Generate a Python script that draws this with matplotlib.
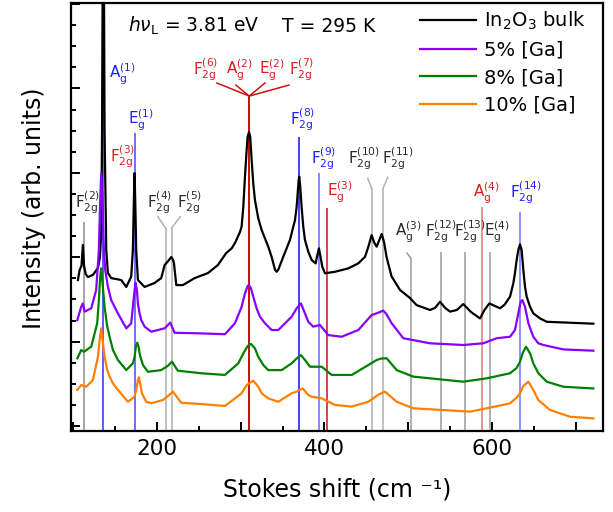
import matplotlib
matplotlib.use('Agg')
import matplotlib.pyplot as plt
from matplotlib.ticker import MultipleLocator

plt.rcParams['font.family'] = ['DejaVu Sans']
plt.rcParams['mathtext.default'] = 'regular'

# ---------------- data ----------------
series_names = [r'In$_2$O$_3$ bulk', '5% [Ga]', '8% [Ga]', '10% [Ga]']

bulk_x = [105.7, 107.7, 110, 111.6, 113, 115, 117.6, 123.6, 129.6, 132, 133.5, 134.5, 135.5, 136.5,
          137.5, 139.5, 141.5, 145.5, 157.4, 163.4, 167.4, 169.3, 171.3, 172.5, 173.3, 174.1, 175.3,
          177.3, 185.3, 197.2, 205.1, 209.2, 212.3, 215, 217.1, 219, 220.3, 223.1, 231.0, 245.0,
          260.9, 272.8, 282.7, 289.2, 293.1, 299.1, 301.1, 303.1, 305.1, 307.1, 308.3, 309.9, 311.4,
          313.1, 315.0, 317, 321.0, 325, 329, 332.9, 336.9, 340.9, 342.9, 344.9, 350.8, 358.8,
          364.8, 366.8, 368, 369.2, 369.9, 371.1, 372.7, 374.7, 376.7, 380.7, 384.7, 389.5, 391.5,
          393.4, 395.4, 397.4, 400.6, 412.5, 428.4, 440.4, 448.4, 452.4, 456.3, 459.3, 462.3, 465.3,
          468.3, 471.2, 474.2, 480, 490.1, 502, 510, 526, 532, 538, 544, 549.9, 558, 565.7, 575,
          585.7, 591, 596.8, 603, 609.6, 615, 621.5, 625.4, 627.4, 629.4, 631.4, 633.4, 635.4,
          637.4, 639.4, 641.4, 645.4, 649.3, 657.3, 665.3, 690, 721]
bulk_y = [6.92, 7.39, 7.6, 8.58, 7.6, 7.2, 7.06, 7.16, 7.49, 8.0, 9.15, 14, 24, 24,
          14, 8.34, 7.25, 7.01, 6.92, 6.59, 6.92, 7.08, 8.34, 10.71, 11.99, 10.71, 8.34,
          6.92, 6.59, 6.78, 7.01, 7.63, 7.77, 7.9, 8.01, 7.9, 7.73, 6.68, 6.68, 7.01,
          7.25, 7.63, 8.2, 8.42, 8.67, 9.19, 9.45, 10.38, 11.82, 13.08, 13.71, 13.93, 13.71,
          12.6, 11.5, 10.71, 9.84, 9.29, 8.89, 8.5, 8.02, 7.41, 7.31, 7.41, 8.02, 8.82,
          9.76, 10.39, 11.03, 11.66, 11.82, 11.34, 10.39, 9.45, 8.82, 8.26, 7.87, 7.71, 8.1,
          8.42, 8.0, 7.55, 7.24, 7.31, 7.47, 7.71, 8.02, 8.5, 9.05, 8.7, 8.5, 8.8,
          9.1, 8.7, 8.0, 7.1, 6.45, 6.07, 5.73, 5.5, 5.6, 5.89, 5.6, 5.42, 5.5, 5.78, 5.4,
          5.1, 5.5, 5.81, 5.7, 5.58, 5.75, 6.13, 6.76, 7.24, 7.87, 8.34, 8.61, 8.34,
          7.39, 6.6, 6.13, 5.65, 5.34, 5.1, 4.94, 4.9, 4.85]

ga5_x = [105, 109.6, 111.6, 113.7, 121.6, 127.5, 130.7, 132.3, 133.5, 135.1, 136.7, 138.3, 141.5,
         145.4, 153.4, 163.4, 169.3, 171.3, 172.5, 174.5, 176.1, 177.3, 179.3, 181.3, 185.3, 193.2,
         209.2, 215.9, 221.1, 252.9, 281.2, 293.1, 297.1, 301.1, 305.1, 308.3, 309.9, 312.2, 315,
         319, 323, 329, 336.9, 344.9, 360.8, 366.8, 371.9, 376.7, 380.7, 386.6, 394.6, 404.5,
         420.5, 440.4, 456.3, 463, 470.2, 474, 480.2, 494.1, 526, 565.7, 589.6, 605.5, 621.5,
         627.4, 631.4, 634.2, 636.2, 639.4, 643.4, 649.3, 655.3, 661.3, 685.2, 721]
ga5_y = [5.02, 5.65, 5.81, 5.42, 5.58, 6.45, 8.34, 10.71, 11.98, 10.71, 8.34, 7.39, 6.6,
         5.97, 5.34, 4.63, 4.87, 5.65, 6.13, 6.79, 6.45, 5.81, 5.34, 5.02, 4.71, 4.47,
         4.63, 4.9, 4.42, 4.39, 4.35, 4.87, 5.26, 5.65, 6.29, 6.64, 6.68, 6.53, 6.13,
         5.58, 5.18, 4.87, 4.55, 4.55, 5.18, 5.58, 5.81, 5.34, 4.94, 4.71, 4.79, 4.31,
         4.23, 4.55, 5.26, 5.35, 5.47, 5.3, 4.87, 4.16, 3.92, 3.84, 3.92, 4.16, 4.23,
         4.55, 5.34, 5.89, 5.97, 5.65, 4.87, 4.23, 3.92, 3.84, 3.63, 3.57]

ga8_x = [105, 109.6, 112.8, 121.6, 128.7, 130.7, 132.3, 133.5, 135.1, 137.5, 140.7, 143.5, 147.5,
         153.4, 163.4, 171.3, 173.3, 174.9, 176.5, 178.1, 179.7, 183.3, 189.3, 205.1, 213, 217.9,
         225, 252.9, 281.2, 297.1, 303.1, 308.3, 312.2, 317, 321, 327, 332.9, 348.9, 360.8,
         366.8, 371.9, 376.7, 382.7, 396.7, 408.6, 432.5, 452.4, 462.3, 468, 474.2, 486.2, 506,
         565.7, 593.7, 621.5, 629.4, 633.4, 637, 640.6, 645.4, 649.3, 655.3, 665.3, 685.2, 721]
ga8_y = [3.21, 3.6, 3.52, 3.76, 4.87, 5.97, 7.08, 7.47, 6.76, 5.65, 4.71, 4.23, 3.6,
         3.13, 2.65, 2.97, 3.28, 3.76, 3.95, 3.76, 3.36, 2.89, 2.57, 2.65, 2.85, 3.05,
         2.62, 2.5, 2.42, 2.97, 3.44, 3.79, 3.89, 3.68, 3.28, 2.89, 2.65, 2.65, 2.97,
         3.2, 3.36, 3.13, 2.81, 2.81, 2.42, 2.42, 2.89, 3.13, 3.2, 3.21, 2.65, 2.34,
         2.1, 2.26, 2.5, 2.75, 3.05, 3.5, 3.76, 3.44, 2.97, 2.5, 2.1, 1.86, 1.78]

ga10_x = [105, 109.6, 115.6, 123.6, 129.6, 131.6, 133.5, 135.1, 137.5, 140.7, 143.5, 147.5, 153.4,
          165.4, 173.3, 175.3, 177.3, 178.5, 180.0, 182.1, 187.2, 193.2, 207.2, 214, 219.1, 229,
          252.9, 281.2, 301.1, 307.1, 315, 321, 325, 332.9, 344.9, 360.8, 366.8, 374, 380.7,
          384.7, 396.7, 412.5, 432.5, 452.4, 465, 472.2, 486.2, 506, 573.7, 593.7, 621.5, 629.4,
          633.4, 637.4, 643.4, 649.3, 655.3, 669.2, 693.1, 721]
ga10_y = [1.71, 1.94, 1.86, 2.18, 3.28, 4.08, 4.63, 4.08, 3.28, 2.65, 2.34, 2.02, 1.71,
          1.15, 1.39, 1.71, 2.18, 2.31, 2.02, 1.55, 1.15, 1.08, 1.23, 1.45, 1.63, 1.1,
          1.04, 0.95, 1.55, 1.94, 2.15, 1.86, 1.55, 1.31, 1.15, 1.55, 1.63, 1.78, 1.47,
          1.39, 1.31, 1.0, 0.92, 1.15, 1.5, 1.63, 1.15, 0.84, 0.68, 0.84, 1.07, 1.35,
          1.55, 1.9, 2.1, 1.71, 1.23, 0.76, 0.44, 0.36]

# Raman mode assignments (label, frequency in cm^-1)
mode_labels = [r'$F_{2g}^{(2)}$', r'$A_{g}^{(1)}$', r'$F_{2g}^{(3)}$', r'$E_{g}^{(1)}$',
               r'$F_{2g}^{(4)}$', r'$F_{2g}^{(5)}$', r'$F_{2g}^{(6)}$', r'$A_{g}^{(2)}$',
               r'$E_{g}^{(2)}$', r'$F_{2g}^{(7)}$', r'$F_{2g}^{(8)}$', r'$F_{2g}^{(9)}$',
               r'$E_{g}^{(3)}$', r'$F_{2g}^{(10)}$', r'$F_{2g}^{(11)}$', r'$A_{g}^{(3)}$',
               r'$F_{2g}^{(12)}$', r'$F_{2g}^{(13)}$', r'$A_{g}^{(4)}$', r'$E_{g}^{(4)}$',
               r'$F_{2g}^{(14)}$']
mode_freq = [113.5, 135.5, 132.0, 173.4, 210.4, 217.5, 310.2, 310.2, 310.2, 310.2, 370.0,
             393.0, 402.6, 456.3, 469.9, 503.0, 539.0, 568.0, 587.7, 597.6, 633.4]

# ---------------- layout / style (not data) ----------------
YMIN, YMAX = -0.237, 20.05
GRAY_T, BLUE_T, RED_T = '#2a2a2a', '#2020ff', '#d82020'
# per mode: line top, kink point, label anchor (left, baseline), text colour, line colour
mode_layout = [
    (9.67, None, (102.4, 10.37), GRAY_T, '#8c8c8c'),
    (YMAX, None, (143.0, 16.48), BLUE_T, '#3030ff'),
    (None, None, (143.9, 12.53), RED_T, '#d01010'),
    (13.89, None, (165.7, 14.31), BLUE_T, '#4848ff'),
    (9.38, (201.2, 9.92), (188.4, 10.38), GRAY_T, '#b0b0b0'),
    (9.38, (227.8, 9.92), (224.2, 10.38), GRAY_T, '#b0b0b0'),
    (15.64, (271.6, 16.26), (243.3, 16.64), RED_T, '#d01010'),
    (15.64, (294.3, 16.16), (282.0, 16.64), RED_T, '#d01010'),
    (15.64, (329.0, 16.26), (321.8, 16.64), RED_T, '#d01010'),
    (15.64, (357.6, 16.16), (358.0, 16.64), RED_T, '#d01010'),
    (13.70, None, (358.8, 14.31), BLUE_T, '#1010ee'),
    (11.99, None, (383.5, 12.45), BLUE_T, '#6a6aff'),
    (10.33, None, (402.6, 10.87), RED_T, '#cc1111'),
    (11.26, (451.6, 11.74), (428.4, 12.45), GRAY_T, '#b0b0b0'),
    (11.26, (475.5, 11.79), (468.3, 12.45), GRAY_T, '#b0b0b0'),
    (7.96, (498.5, 8.2), (484.2, 9.0), GRAY_T, '#9a9a9a'),
    (8.25, None, (519.6, 9.0), GRAY_T, '#9a9a9a'),
    (8.25, None, (554.4, 9.0), GRAY_T, '#9a9a9a'),
    (10.38, None, (577.7, 10.82), RED_T, '#e07878'),
    (8.25, None, (590.0, 9.0), GRAY_T, '#9a9a9a'),
    (10.14, None, (621.5, 10.82), BLUE_T, '#7070ff'),
]

fig = plt.figure(figsize=(6.13, 5.12), dpi=100)
ax = fig.add_axes([0.1166, 0.1582, 0.8671, 0.8359])

# mode marker lines
for f, (top, kink, lab, tcol, lcol) in zip(mode_freq, mode_layout):
    if top is not None:
        ax.vlines(f, YMIN, top, colors=lcol, lw=1.1, zorder=1)
        if kink is not None:
            ax.plot([f, kink[0]], [top, kink[1]], color=lcol, lw=1.1, zorder=1)

for name, (top, kink, lab, tcol, lcol) in zip(mode_labels, mode_layout):
    ax.text(lab[0], lab[1], name, color=tcol, fontsize=11, ha='left', va='baseline', zorder=5)

colors = ['#000000', '#8800ff', '#008000', '#ff8000']
xs = [bulk_x, ga5_x, ga8_x, ga10_x]
ys = [bulk_y, ga5_y, ga8_y, ga10_y]
handles = []
for x, y, c, n in zip(xs, ys, colors, series_names):
    h, = ax.plot(x, y, color=c, lw=1.6, label=n, zorder=3, solid_joinstyle='round')
    handles.append(h)

ax.set_xlim(98, 732.5)
ax.set_ylim(YMIN, YMAX)

ax.xaxis.set_major_locator(MultipleLocator(100))
ax.xaxis.set_major_formatter(plt.FuncFormatter(
    lambda v, p: f'{int(round(v))}' if int(round(v)) % 200 == 0 else ''))
ax.xaxis.set_minor_locator(MultipleLocator(50))
ax.yaxis.set_major_locator(MultipleLocator(4))
ax.yaxis.set_minor_locator(MultipleLocator(1))
ax.yaxis.set_major_formatter(plt.NullFormatter())
ax.tick_params(which='both', direction='in', top=False, right=False, width=1.4)
ax.tick_params(which='major', length=6.5)
ax.tick_params(which='minor', length=3.5)
ax.tick_params(axis='x', labelsize=15.5, pad=5.5)
for s in ax.spines.values():
    s.set_linewidth(1.6)

ax.set_xlabel('Stokes shift (cm \u207b\u00b9)', fontsize=17)
ax.xaxis.set_label_coords(0.5005, -0.108)
ax.set_ylabel('Intensity (arb. units)', fontsize=17)
ax.yaxis.set_label_coords(-0.048, 0.52)

fig.text(128 / 613, 1 - 31.5 / 512, r'$\mathit{h\nu}_{L}$ = 3.81 eV', fontsize=13.5,
         ha='left', va='baseline')
fig.text(282 / 613, 1 - 31.5 / 512, 'T = 295 K', fontsize=13.5, ha='left', va='baseline')

ax.legend(handles=handles, loc='upper right', bbox_to_anchor=(0.968, 0.985), frameon=False,
          fontsize=14, handlelength=2.9, handletextpad=0.4, labelspacing=0.45, borderpad=0,
          borderaxespad=0)

fig.savefig('out.png', dpi=100)
